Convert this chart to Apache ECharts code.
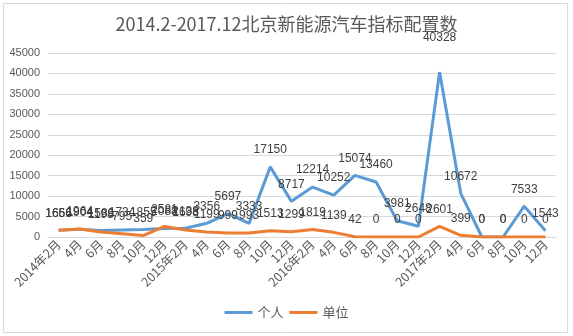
<!DOCTYPE html>
<html>
<head>
<meta charset="utf-8">
<script src="https://cdn.jsdelivr.net/npm/echarts@6/dist/echarts.min.js"></script>
<style>
  html, body { margin: 0; padding: 0; background: #fff; }
  #chart { width: 573px; height: 336px; }
</style>
</head>
<body>
<div id="chart"></div>
<script>
// Bi-monthly periods, Feb 2014 – Dec 2017
const months = [
  '2014年2月', '4月', '6月', '8月', '10月', '12月',
  '2015年2月', '4月', '6月', '8月', '10月', '12月',
  '2016年2月', '4月', '6月', '8月', '10月', '12月',
  '2017年2月', '4月', '6月', '8月', '10月', '12月'
];

// Quotas allocated to individuals
const personal = [
  1666, 1904, 1586, 1734, 1855, 2088,
  2138, 3356, 5697, 3333, 17150, 8717,
  12214, 10252, 15074, 13460, 3981, 2648,
  40328, 10672, 0, 0, 7533, 1543
];

// Quotas allocated to organisations
const organisation = [
  1656, 1964, 1198, 795, 359, 2581,
  1698, 1199, 999, 993, 1513, 1299,
  1819, 1139, 42, 0, 0, 0,
  2601, 399, 0, 0, 0, 0
];

const seriesNames = ['个人', '单位'];
const yTicks = { min: 0, max: 45000, interval: 5000 };

const chart = echarts.init(document.getElementById('chart'), null, { renderer: 'canvas' });

const labelStyle = {
  show: true,
  position: 'top',
  distance: 11,
  fontSize: 12,
  color: '#404040',
  fontFamily: 'Liberation Sans, Arial, sans-serif'
};

// The tallest peak's label is lifted clear of the steep line around it
const peak = Math.max.apply(null, personal);
const personalData = personal.map(v =>
  v === peak ? { value: v, label: { distance: 28 } } : v
);

chart.setOption({
  backgroundColor: '#fff',
  animation: false,
  title: {
    text: '2014.2-2017.12北京新能源汽车指标配置数',
    left: 'center',
    top: 10,
    textStyle: {
      fontSize: 18,
      fontWeight: 'normal',
      color: '#595959',
      fontFamily: 'Noto Sans CJK SC, sans-serif'
    }
  },
  graphic: [{
    type: 'rect',
    shape: { x: 3.5, y: 3.5, width: 564, height: 329 },
    style: { fill: 'none', stroke: '#d9d9d9', lineWidth: 1 },
    silent: true
  }],
  legend: {
    data: seriesNames,
    bottom: 12,
    left: 'center',
    icon: 'rect',
    itemWidth: 28,
    itemHeight: 3,
    itemGap: 6,
    textStyle: {
      fontSize: 13,
      color: '#595959',
      fontFamily: 'Noto Sans CJK SC, sans-serif'
    }
  },
  grid: { left: 48, right: 17, top: 53, bottom: 99, containLabel: false },
  xAxis: {
    type: 'category',
    data: months,
    boundaryGap: true,
    axisLine: { lineStyle: { color: '#d9d9d9' } },
    axisTick: { show: false },
    axisLabel: {
      rotate: 45,
      interval: 0,
      margin: 5,
      fontSize: 12.5,
      color: '#595959',
      fontFamily: 'Noto Sans CJK SC, sans-serif'
    }
  },
  yAxis: {
    type: 'value',
    min: yTicks.min,
    max: yTicks.max,
    interval: yTicks.interval,
    axisLine: { show: false },
    axisTick: { show: false },
    splitLine: { lineStyle: { color: '#d9d9d9' } },
    axisLabel: {
      margin: 8,
      fontSize: 11,
      color: '#595959',
      fontFamily: 'Liberation Sans, Arial, sans-serif',
      formatter: function (v) { return String(v); }
    }
  },
  series: [
    {
      name: seriesNames[0],
      type: 'line',
      data: personalData,
      symbol: 'circle',
      symbolSize: 0,
      lineStyle: { color: '#5B9BD5', width: 3 },
      itemStyle: { color: '#5B9BD5' },
      label: labelStyle
    },
    {
      name: seriesNames[1],
      type: 'line',
      data: organisation,
      symbol: 'circle',
      symbolSize: 0,
      lineStyle: { color: '#ED7D31', width: 3 },
      itemStyle: { color: '#ED7D31' },
      label: labelStyle
    }
  ]
});
</script>
</body>
</html>
